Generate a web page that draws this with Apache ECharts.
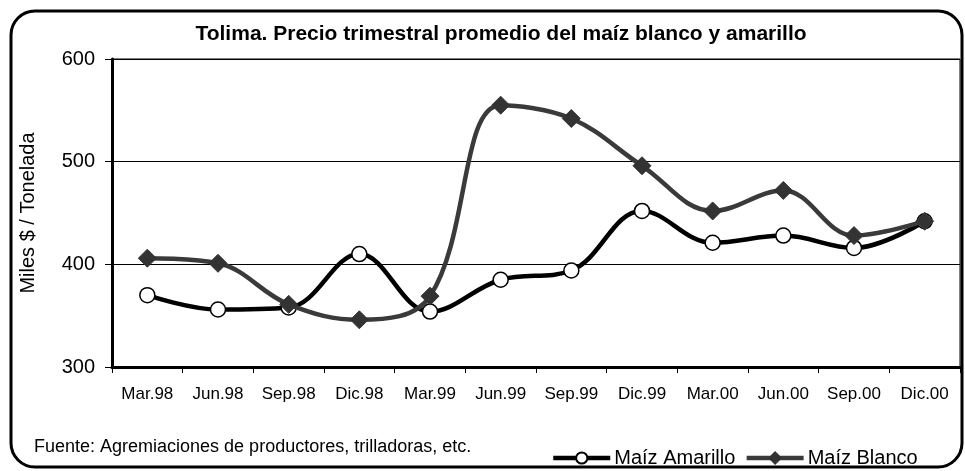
<!DOCTYPE html>
<html>
<head>
<meta charset="utf-8">
<script src="https://cdn.jsdelivr.net/npm/echarts@6/dist/echarts.min.js"></script>
<style>
  html, body { margin: 0; padding: 0; background: #fff; }
  #chart { width: 965px; height: 471px; }
</style>
</head>
<body>
<div id="chart"></div>
<script>
const categories = ['Mar.98', 'Jun.98', 'Sep.98', 'Dic.98', 'Mar.99', 'Jun.99', 'Sep.99', 'Dic.99', 'Mar.00', 'Jun.00', 'Sep.00', 'Dic.00'];
const amarillo = [370, 356, 358, 410, 354, 385, 394, 452, 421, 428, 416, 442];
const blanco = [406, 401, 361, 346, 369, 555, 542, 496, 452, 472, 428, 442];

const font = 'Liberation Sans, Arial, sans-serif';

const chart = echarts.init(document.getElementById('chart'));

chart.setOption({
  animation: false,
  textStyle: { fontFamily: font },
  title: {
    text: 'Tolima. Precio trimestral promedio del maíz blanco y amarillo',
    left: 496,
    textAlign: 'center',
    top: 19,
    textStyle: { fontSize: 21, fontWeight: 'bold', color: '#000', fontFamily: font },
  },
  grid: {
    left: 112,
    right: 5,
    top: 59,
    bottom: 104,
    show: true,
    borderColor: '#000',
    borderWidth: 1,
    containLabel: false,
  },
  legend: {
    left: 546,
    top: 443,
    itemWidth: 57,
    itemHeight: 14,
    itemGap: 9,
    lineStyle: { width: 4.5 },
    textStyle: { fontSize: 20, color: '#000', padding: [0, 0, 0, -1] },
    data: ['Maíz Amarillo', 'Maíz Blanco'],
  },
  xAxis: {
    type: 'category',
    data: categories,
    boundaryGap: true,
    axisLine: { lineStyle: { color: '#000', width: 3 } },
    axisTick: { show: true, length: 6, lineStyle: { color: '#000', width: 1 } },
    axisLabel: { color: '#000', fontSize: 17, margin: 19 },
  },
  yAxis: {
    type: 'value',
    min: 300,
    max: 600,
    interval: 100,
    name: 'Miles $ / Tonelada',
    nameLocation: 'middle',
    nameGap: 74,
    nameTextStyle: { fontSize: 20, color: '#000' },
    axisLine: { show: true, lineStyle: { color: '#000', width: 3 } },
    axisTick: { show: true, length: 7, lineStyle: { color: '#000', width: 1 } },
    axisLabel: { color: '#000', fontSize: 20, margin: 17 },
    splitLine: { show: true, lineStyle: { color: '#000', width: 1 } },
  },
  graphic: [
    {
      type: 'rect',
      shape: { x: 11, y: 11, width: 951, height: 456, r: 24 },
      style: { fill: 'none', stroke: '#000', lineWidth: 3 },
      silent: true,
      z: 100,
    },
    {
      type: 'text',
      left: 34,
      top: 438,
      style: {
        text: 'Fuente: Agremiaciones de productores, trilladoras, etc.',
        font: '18px Liberation Sans, Arial, sans-serif',
        fill: '#000',
      },
    },
  ],
  series: [
    {
      name: 'Maíz Amarillo',
      type: 'line',
      data: amarillo,
      smooth: 0.38,
      symbol: 'circle',
      symbolSize: 15,
      z: 3,
      lineStyle: { color: '#000', width: 4.5 },
      itemStyle: { color: '#fff', borderColor: '#000', borderWidth: 1.5 },
    },
    {
      name: 'Maíz Blanco',
      type: 'line',
      data: blanco,
      smooth: 0.38,
      symbol: 'diamond',
      symbolSize: [18, 18],
      z: 4,
      lineStyle: { color: '#3a3a3a', width: 4.5 },
      itemStyle: { color: '#333', borderColor: '#333', borderWidth: 1 },
    },
  ],
});
</script>
</body>
</html>
